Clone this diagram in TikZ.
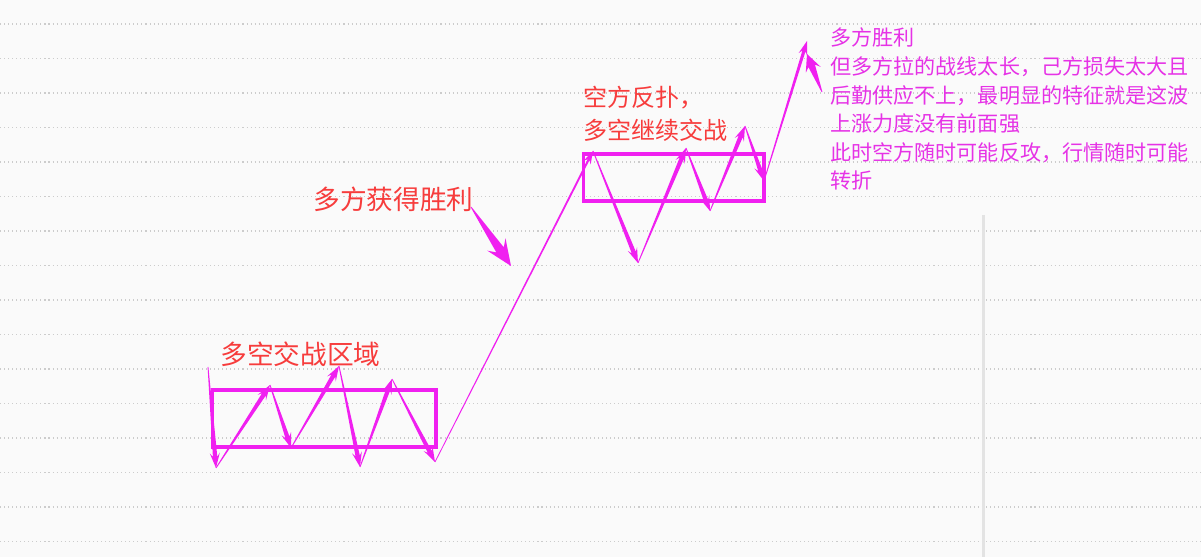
\documentclass[tikz,border=0pt]{standalone}
\usepackage{fontspec}
\newfontfamily\cjk{Noto Sans CJK SC}
\usetikzlibrary{calc}
\definecolor{zzmag}{HTML}{F020F0}
\definecolor{lblred}{HTML}{F73C3C}
\definecolor{notemag}{HTML}{E632E6}
\definecolor{bgpaper}{HTML}{FAFAFA}
\definecolor{gridgray}{HTML}{CCCCCC}
\newcommand{\upx}{0.02cm}
% tapered arrow: from, to, shaft half width, head length, head half width (px)
\newcommand{\zarrow}[5]{%
  \coordinate (zc) at ($(#2)!#4*\upx!(#1)$);
  \coordinate (zn) at ($(#2)!0.75*#4*\upx!(#1)$);
  \fill[zz] ($(#1)!0.4*\upx!90:(#2)$) -- ($(zn)!#3*\upx!90:(#2)$) -- ($(zc)!#5*\upx!90:(#2)$)
    -- (#2) -- ($(zc)!#5*\upx!-90:(#2)$) -- ($(zn)!#3*\upx!-90:(#2)$) -- ($(#1)!0.4*\upx!-90:(#2)$) -- cycle;
}

\begin{document}
\begin{tikzpicture}[x=0.02cm,y=-0.02cm,
    zz/.style={fill=zzmag},
    zonebox/.style={draw=zzmag,line width=1.9pt},
    gridline/.style={draw=gridgray,line width=0.6pt,dash pattern=on 0.6pt off 1.7pt},
    lbl/.style={text=lblred,inner sep=0,anchor=base west,align=left},
    note/.style={text=notemag,inner sep=0,anchor=base west,align=left,
      font=\cjk\fontsize{12pt}{16.3pt}\selectfont}]
    \fill[bgpaper] (0,0) rectangle (1201,557);
    \useasboundingbox (0,0) rectangle (1201,557);
    \foreach \k in {0,...,15} {
        \draw[gridline] (0,{24+34.5*\k}) -- (1201,{24+34.5*\k});
    }
    \draw[gray!22,line width=1.2pt] (983.5,215) -- (983.5,557);

    % zones
    \draw[zonebox] (212.5,390) rectangle (436,447);
    \draw[zonebox] (583.5,154) rectangle (764,201);

    % price path
    \coordinate (z0) at (208,367);
    \coordinate (z1) at (216,468);
    \coordinate (z2) at (270,385);
    \coordinate (z3) at (291,448);
    \coordinate (z4) at (339,366);
    \coordinate (z5) at (360,467);
    \coordinate (z6) at (392,379);
    \coordinate (z7) at (435,462);
    \coordinate (z8) at (593,151);
    \coordinate (z9) at (638,263);
    \coordinate (z10) at (686,148);
    \coordinate (z11) at (710,211);
    \coordinate (z12) at (745,126);
    \coordinate (z13) at (764,181);
    \coordinate (z14) at (807,41);
    \foreach \a/\b in {z0/z1,z1/z2,z2/z3,z3/z4,z4/z5,z5/z6,z6/z7,z8/z9,z9/z10,z10/z11,z11/z12,z12/z13} {
        \zarrow{\a}{\b}{2.2}{15}{5}
    }
    \zarrow{z7}{z8}{1}{13}{4}
    \zarrow{z13}{z14}{1.6}{14}{4.5}

    % labels (base = last line)
    \node[lbl,font=\cjk\fontsize{15.2pt}{18pt}\selectfont] (zone1) at (220,365) {多空交战区域};
    \node[lbl,font=\cjk\fontsize{15.2pt}{18pt}\selectfont] (bullwin) at (313,210) {多方获得胜利};
    \node[lbl,font=\cjk\fontsize{13.7pt}{18.8pt}\selectfont] (zone2) at (583,140) {空方反扑，\\多空继续交战};
    \node[note] (remark) at (830,189) {多方胜利\\但多方拉的战线太长，己方损失太大且\\后勤供应不上，最明显的特征就是这波\\上涨力度没有前面强\\此时空方随时可能反攻，行情随时可能\\转折};

    % pointers
    \coordinate (p1) at (471,207);
    \coordinate (p2) at (511,266);
    \zarrow{p1}{p2}{4.5}{26}{11}
    \coordinate (p3) at (822,92);
    \coordinate (p4) at (807,54);
    \zarrow{p3}{p4}{3.5}{17}{8}
\end{tikzpicture}
\end{document}
